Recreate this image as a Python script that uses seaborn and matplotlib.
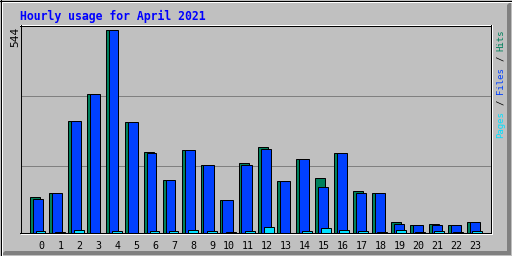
import matplotlib
matplotlib.use("Agg")
import matplotlib.pyplot as plt
import numpy as np
import pandas as pd
import seaborn as sns
from matplotlib.lines import Line2D
from matplotlib.patches import Polygon
from matplotlib.transforms import blended_transform_factory

# ---------------- data ----------------
hours = list(range(24))
hits = [94, 106, 300, 372, 544, 297, 217, 142, 222, 182, 86, 185,
        230, 137, 198, 145, 214, 110, 107, 27, 21, 24, 21, 29]
files = [90, 106, 300, 372, 544, 297, 214, 142, 220, 180, 86, 182,
         225, 137, 198, 123, 212, 107, 107, 24, 21, 21, 21, 29]
pages = [5, 2, 8, 0, 5, 0, 5, 5, 8, 5, 2, 5,
         16, 0, 5, 13, 8, 5, 2, 8, 2, 5, 2, 5]
hour_labels = [str(h) for h in hours]
y_max_label = "544"
title = "Hourly usage for April 2021"
legend_parts = ["Pages", " / ", "Files", " / ", "Hits"]

# ---------------- style ----------------
BG = "#c0c0c0"
DARK = "#808080"
C_HITS, C_FILES, C_PAGES = "#00805c", "#0040ff", "#00e0ff"
legend_colors = [C_PAGES, "black", C_FILES, "black", C_HITS]

W, H = 512, 256
sns.set_theme(style="white")
plt.rcParams['font.family'] = ['DejaVu Sans Mono', 'DejaVu Sans']

fig = plt.figure(figsize=(W / 100, H / 100), dpi=100, facecolor=BG)


def fx(px):
    return px / W


def fy(row):
    return 1 - row / H


def hline(row, c1, c2, color, z=5):
    fig.add_artist(Line2D([fx(c1), fx(c2 + 1)], [fy(row + 0.5)] * 2, lw=0.72,
                          color=color, solid_capstyle="butt", antialiased=False, zorder=z))


def vline(col, r1, r2, color, z=5):
    fig.add_artist(Line2D([fx(col + 0.5)] * 2, [fy(r1), fy(r2 + 1)], lw=0.72,
                          color=color, solid_capstyle="butt", antialiased=False, zorder=z))


# pixel mapping of the plot
X0, DX = 34.5, 19.0      # centre pixel of hour-0 hits bar, pixels per hour
Y0, DY = 232.5, 203.0    # baseline row centre, pixels for the max value
vmax = max(hits)

L, R, T, B = 19, 493, 24, 236
ax = fig.add_axes([fx(L), fy(B), fx(R) - fx(L), fy(T) - fy(B)])

df = pd.DataFrame({"hour": hours, "hits": hits, "files": files, "pages": pages})
bw = 10 / DX
for col, color, off in [("hits", C_HITS, 0), ("files", C_FILES, 3), ("pages", C_PAGES, 6)]:
    sns.barplot(x=df["hour"] + off / DX, y=df[col], native_scale=True, width=bw,
                color=color, saturation=1, edgecolor="black", linewidth=0.72,
                errorbar=None, ax=ax, zorder=3)

ax.set_xlim((L - X0) / DX, (R - X0) / DX)
ax.set_ylim((Y0 - B) * vmax / DY, (Y0 - T) * vmax / DY)
ax.set_axis_off()

# grid lines (rows 95 and 165)
for row in (95, 165):
    yv = (Y0 - (row + 0.5)) * vmax / DY
    ax.axhline(yv, xmin=(21 - L) / (R - L), xmax=(490 - L) / (R - L),
               color=DARK, lw=0.72, zorder=1)

# x tick labels
trans = blended_transform_factory(ax.transData, fig.transFigure)
for h, lab in zip(hours, hour_labels):
    ax.text(h + (44.3 - X0) / DX, fy(249), lab, transform=trans, ha="right",
            va="baseline", fontsize=7.2, color="black")

# outer bevel
fig.add_artist(Polygon([(fx(1), fy(255)), (fx(511), fy(255)), (fx(511), fy(251)), (fx(5), fy(251))],
                       closed=True, color=DARK, lw=0, zorder=4))
fig.add_artist(Polygon([(fx(511), fy(1)), (fx(511), fy(255)), (fx(507), fy(251)), (fx(507), fy(5))],
                       closed=True, color=DARK, lw=0, zorder=4))
hline(1, 1, 510, "white")
vline(1, 1, 254, "white")
hline(0, 0, 511, "black")
hline(255, 0, 511, "black")
vline(0, 0, 255, "black")
vline(511, 0, 255, "black")

# plot frame
hline(24, 20, 491, "white")
hline(233, 21, 491, "white")
vline(491, 25, 233, "white")
hline(25, 20, 490, "black")
hline(232, 20, 490, "black")
vline(20, 25, 232, "black")
vline(490, 25, 232, "black")

# title
fig.text(fx(20), fy(20), title, color="#0000ff", fontsize=8.3, fontweight="bold",
         ha="left", va="baseline")

# y max label
fig.text(fx(18), fy(27), y_max_label, rotation=90, rotation_mode="anchor",
         ha="right", va="baseline", fontsize=8, color="black")

# right legend (monospace: place each coloured piece along the vertical)
leg_fs = 6.5
char_px = 0.602 * leg_fs * 100 / 72
offset = 0
for part, color in zip(legend_parts, legend_colors):
    lead = len(part) - len(part.lstrip(" "))
    txt = part.strip(" ")
    start_row = 137.5 - (offset + lead) * char_px
    fig.text(fx(503.5), fy(start_row), txt, rotation=90, rotation_mode="anchor",
             ha="left", va="baseline", fontsize=leg_fs, color=color)
    offset += len(part)

fig.savefig("out.png", dpi=100, facecolor=BG)
